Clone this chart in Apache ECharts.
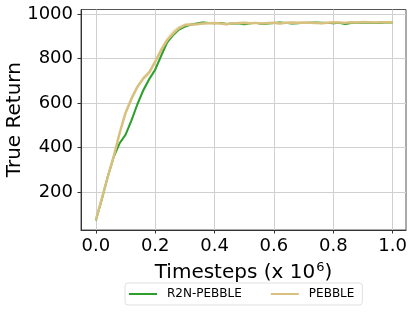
<!DOCTYPE html>
<html>
<head>
<meta charset="utf-8">
<script src="https://cdn.jsdelivr.net/npm/echarts@6/dist/echarts.min.js"></script>
<style>
  html, body { margin: 0; padding: 0; background: #fff; }
  #chart { width: 415px; height: 323px; }
</style>
</head>
<body>
<div id="chart"></div>
<script>
// timesteps (x 10^6)
const steps = [
  0.00, 0.02, 0.04, 0.06, 0.08, 0.10, 0.12, 0.14, 0.16, 0.18,
  0.20, 0.22, 0.24, 0.26, 0.28, 0.30, 0.32, 0.34, 0.36, 0.38,
  0.40, 0.42, 0.44, 0.46, 0.48, 0.50, 0.52, 0.54, 0.56, 0.58,
  0.60, 0.62, 0.64, 0.66, 0.68, 0.70, 0.72, 0.74, 0.76, 0.78,
  0.80, 0.82, 0.84, 0.86, 0.88, 0.90, 0.92, 0.94, 0.96, 0.98, 1.00
];
const r2nMean = [
  74, 168, 270, 358, 420, 458, 523, 595, 658, 708,
  750, 812, 872, 905, 930, 943, 952, 957, 962, 960,
  958, 960, 955, 957, 958, 954, 958, 960, 955, 957,
  959, 962, 960, 957, 958, 960, 961, 962, 961, 960,
  958, 960, 955, 959, 961, 962, 961, 959, 961, 962, 962
];
const r2nStd = [
  4, 8, 8, 8, 8, 10, 12, 12, 12, 12,
  12, 12, 10, 8, 8, 6, 5, 4, 6, 4,
  4, 5, 6, 4, 5, 6, 4, 4, 6, 4,
  4, 5, 4, 5, 4, 4, 4, 4, 4, 4,
  5, 4, 6, 4, 4, 4, 4, 4, 4, 4, 4
];
const pebbleMean = [
  76, 172, 268, 360, 465, 556, 620, 673, 711, 738,
  786, 838, 882, 912, 937, 950, 953, 954, 957, 958,
  959, 957, 954, 958, 959, 961, 958, 960, 957, 960,
  961, 957, 961, 962, 961, 962, 961, 960, 958, 961,
  963, 962, 960, 963, 962, 964, 963, 962, 963, 963, 963
];
const pebbleStd = [
  4, 8, 8, 8, 10, 12, 12, 12, 12, 12,
  12, 14, 16, 18, 10, 8, 8, 5, 4, 4,
  4, 5, 6, 4, 4, 4, 6, 4, 6, 4,
  4, 6, 4, 4, 4, 4, 4, 5, 6, 4,
  4, 4, 6, 4, 4, 4, 4, 4, 4, 4, 4
];
const xTicks = [0, 0.2, 0.4, 0.6, 0.8, 1.0];
const yTicks = [200, 400, 600, 800, 1000];

const GREEN = '#2ca02c';
const TAN = '#d8c07e';
const FONT = 'DejaVu Sans';

function pairs(vals) {
  return steps.map((x, i) => [x, vals[i]]);
}
// shaded mean +/- std band, drawn as one polygon through the axes' scales
function bandSeries(mean, std, color) {
  return {
    type: 'custom', silent: true, clip: true, z: 1,
    data: steps.map((x, i) => [x, mean[i] - std[i], mean[i] + std[i]]),
    encode: { x: 0, y: [1, 2] },
    renderItem: (params, api) => {
      if (params.dataIndex !== 0) return null;
      const upper = steps.map((x, i) => api.coord([x, mean[i] + std[i]]));
      const lower = steps.map((x, i) => api.coord([x, mean[i] - std[i]])).reverse();
      return {
        type: 'polygon',
        shape: { points: upper.concat(lower) },
        style: { fill: color }
      };
    }
  };
}

const chart = echarts.init(document.getElementById('chart'));
chart.setOption({
  animation: false,
  textStyle: { fontFamily: FONT },
  grid: {
    left: 81, right: 9, top: 9.5, bottom: 93,
    containLabel: false, outerBoundsMode: 'none',
    show: true, borderColor: '#555', borderWidth: 1
  },
  legend: {
    data: [
      { name: 'R2N-PEBBLE', icon: 'rect' },
      { name: 'PEBBLE', icon: 'rect' }
    ],
    left: 125, top: 283,
    itemWidth: 28, itemHeight: 2, itemGap: 29,
    padding: [5, 8, 5, 4],
    borderColor: '#e0e0e0', borderWidth: 1, borderRadius: 3,
    textStyle: { fontFamily: FONT, fontSize: 12, color: '#000', padding: [0, 0, 0, 5] }
  },
  xAxis: {
    type: 'value', min: -0.05, max: 1.045,
    name: 'Timesteps (x 10{sup|6})',
    nameLocation: 'middle', nameGap: 31, nameMoveOverlap: false,
    nameTextStyle: {
      fontFamily: FONT, fontSize: 20, color: '#000',
      rich: { sup: { fontFamily: FONT, fontSize: 13, verticalAlign: 'top', padding: [0, 0, 11, 1] } }
    },
    axisLine: { show: true, onZero: false, lineStyle: { color: '#333', width: 1 } },
    axisTick: { show: true, customValues: xTicks, length: 3.5, lineStyle: { color: '#333' } },
    axisLabel: {
      customValues: xTicks, margin: 7,
      fontFamily: FONT, fontSize: 18, color: '#000',
      formatter: v => v.toFixed(1)
    },
    splitLine: { show: true, lineStyle: { color: '#d0d0d0', width: 1 } }
  },
  yAxis: {
    type: 'value', min: 31, max: 1020,
    name: 'True Return',
    nameLocation: 'middle', nameGap: 56, nameMoveOverlap: false,
    nameTextStyle: { fontFamily: FONT, fontSize: 20, color: '#000' },
    axisLine: { show: true, onZero: false, lineStyle: { color: '#333', width: 1 } },
    axisTick: { show: true, customValues: yTicks, length: 3.5, lineStyle: { color: '#333' } },
    axisLabel: {
      customValues: yTicks, margin: 8,
      fontFamily: FONT, fontSize: 18, color: '#000',
      formatter: v => String(v)
    },
    splitLine: { show: true, lineStyle: { color: '#d0d0d0', width: 1 } }
  },
  series: [
    bandSeries(r2nMean, r2nStd, 'rgba(44,160,44,0.22)'),
    bandSeries(pebbleMean, pebbleStd, 'rgba(216,192,126,0.3)'),
    {
      name: 'R2N-PEBBLE', type: 'line', symbol: 'none', z: 2,
      lineStyle: { color: GREEN, width: 2 },
      itemStyle: { color: GREEN },
      data: pairs(r2nMean)
    },
    {
      name: 'PEBBLE', type: 'line', symbol: 'none', z: 3,
      lineStyle: { color: TAN, width: 2.5 },
      itemStyle: { color: TAN },
      data: pairs(pebbleMean)
    }
  ]
});
</script>
</body>
</html>
